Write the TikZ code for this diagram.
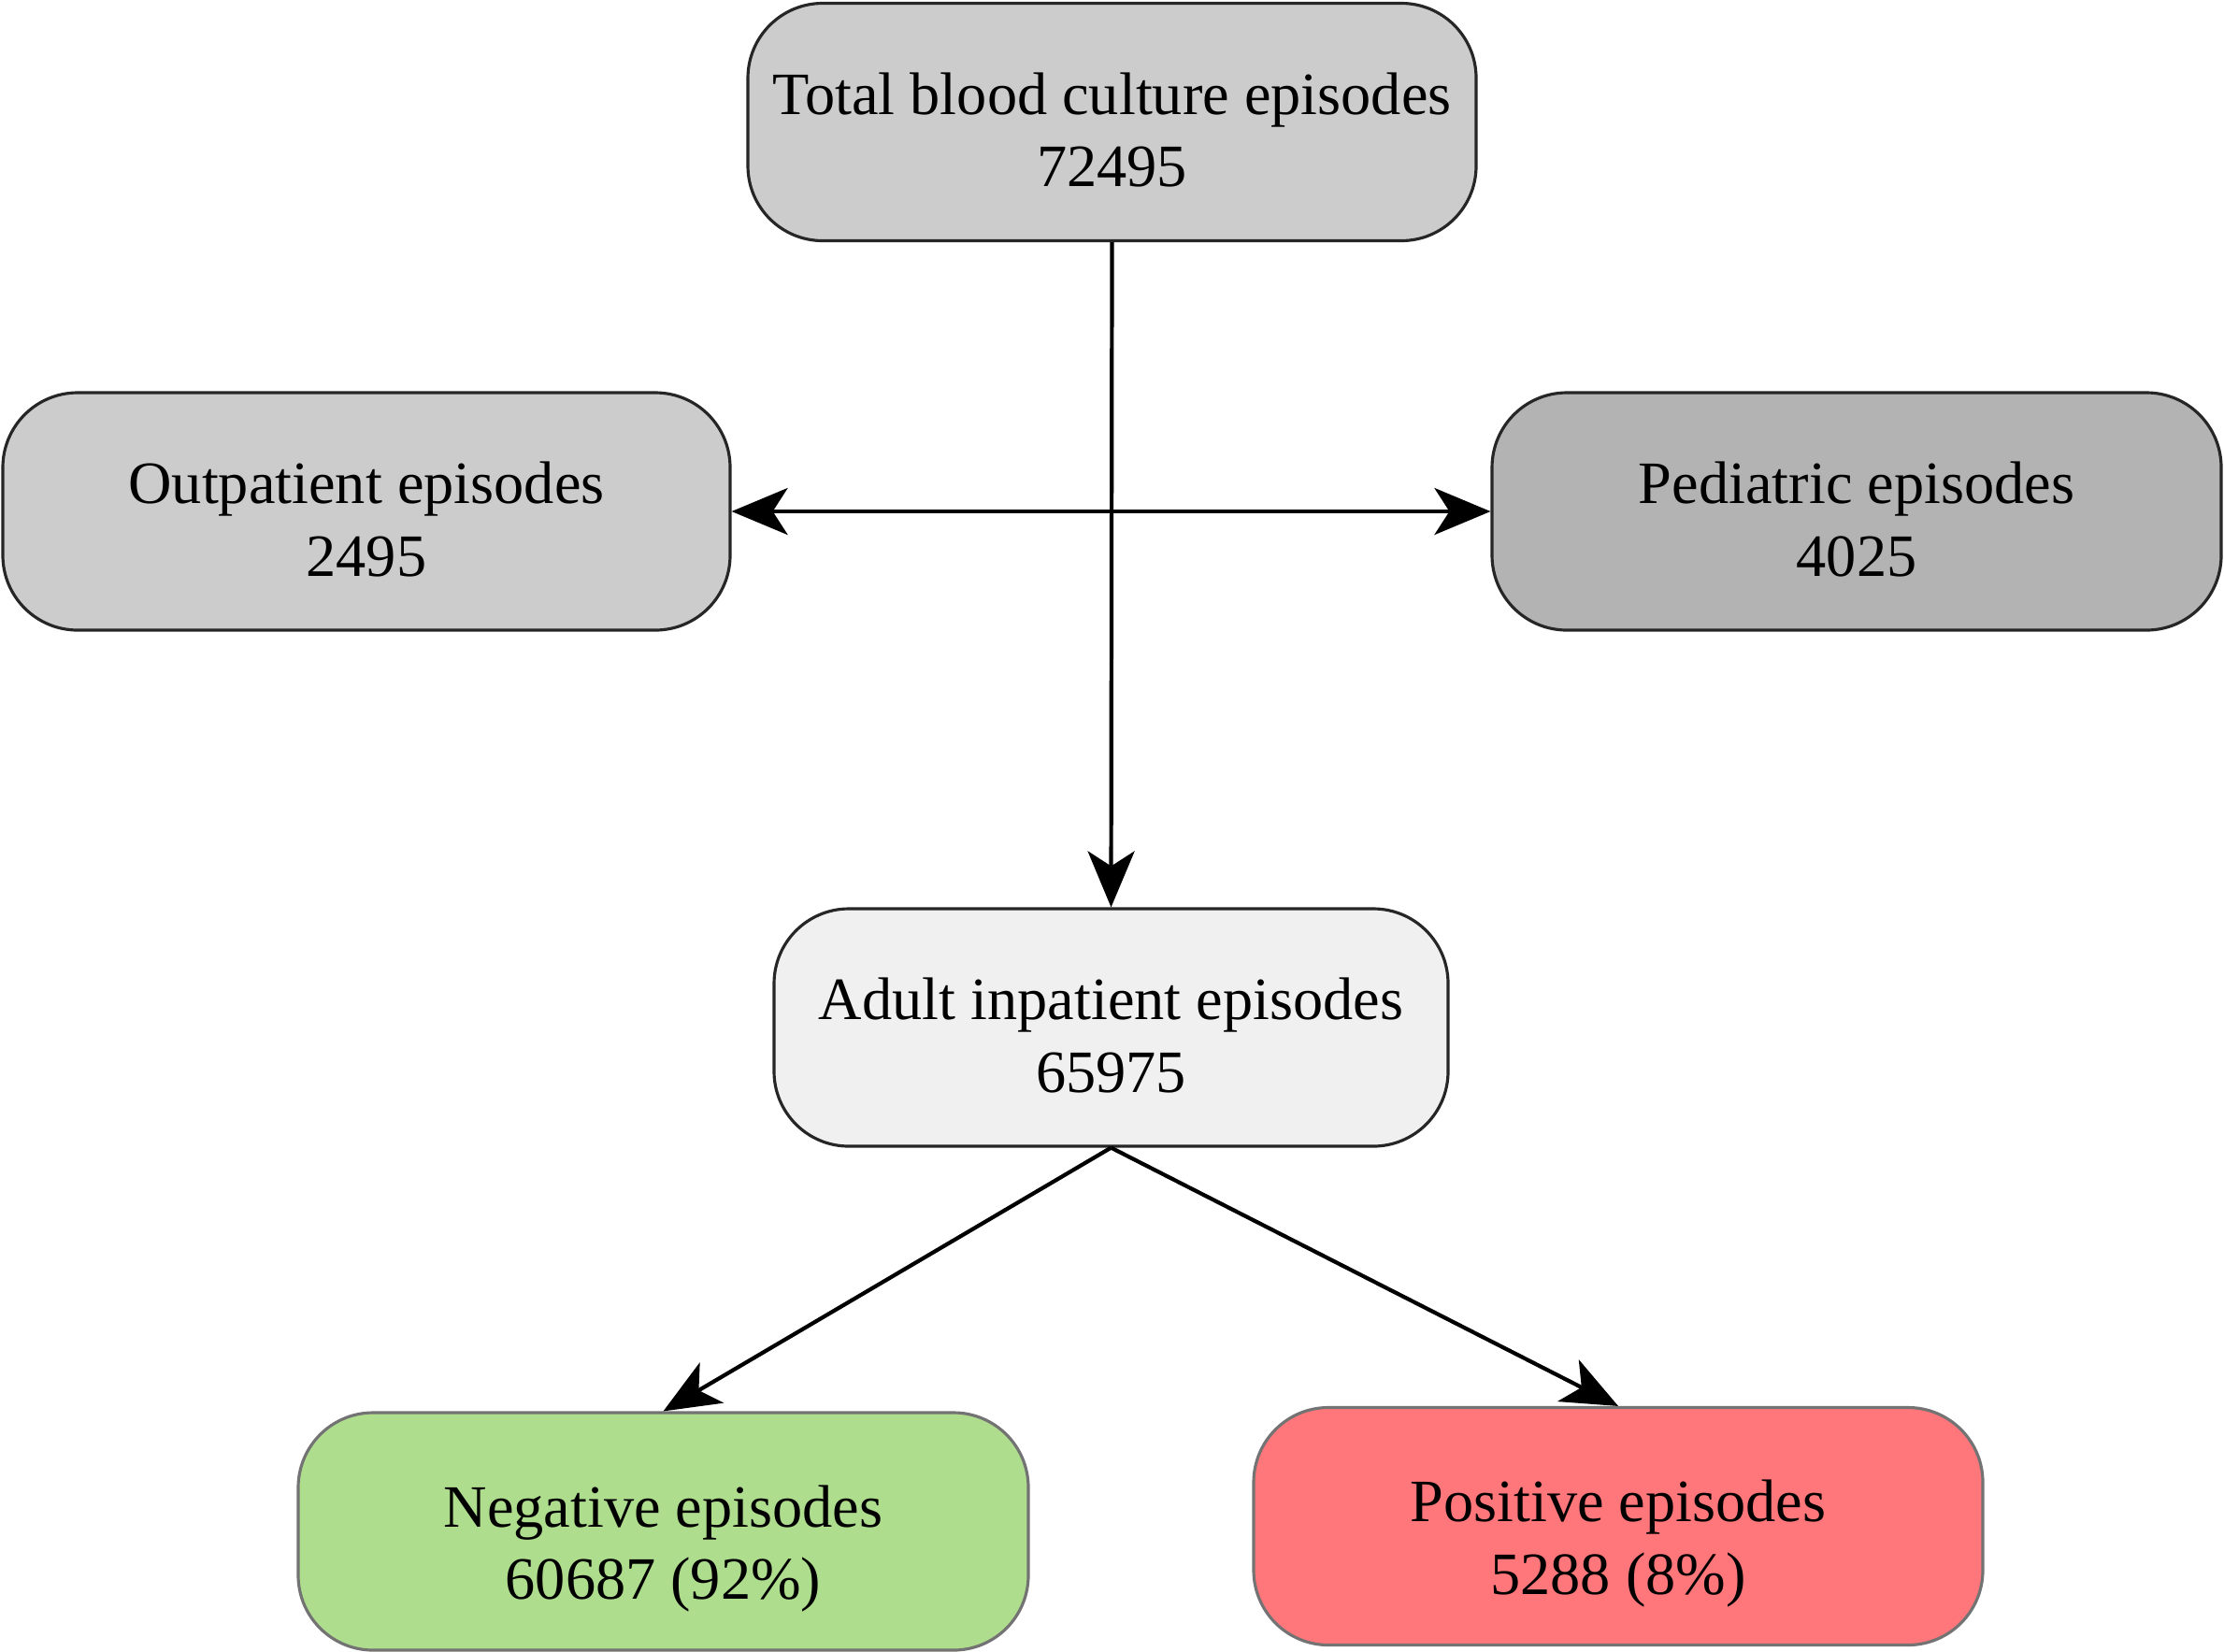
\documentclass[tikz,border=0pt]{standalone}
\usepackage{fontspec}
\setmainfont{Liberation Serif}
\usepackage{tikz}
\usetikzlibrary{arrows.meta}

\definecolor{boxgray}{HTML}{CCCCCC}
\definecolor{boxdark}{HTML}{B3B3B3}
\definecolor{boxlight}{HTML}{F0F0F0}
\definecolor{boxgreen}{HTML}{AFDD8E}
\definecolor{boxred}{HTML}{FF777B}
\newcommand{\topgap}[1]{\rule{0pt}{#1}}

\begin{document}
\begin{tikzpicture}[font=\fontsize{18.3}{22}\selectfont,
  >={Stealth[length=6mm,width=5mm,inset=1.6mm]},
  box/.style n args={3}{fill=#1,draw=#2,line width=0.9pt,rounded corners=0.8cm,
    minimum width=#3,minimum height=2.54cm,align=center,inner sep=0pt},
  arr/.style={line width=1.2pt}]
\useasboundingbox (0,0) rectangle (23.79,-17.66);
\node[box={boxgray}{black!85}{7.79cm}] (total) at (11.895,-1.305)
   {\topgap{17.6pt}Total blood culture episodes\\72495};
\node[box={boxgray}{black!85}{7.78cm}] (outp) at (3.92,-5.47)
   {\topgap{17.6pt}Outpatient episodes\\2495};
\node[box={boxdark}{black!85}{7.80cm}] (pedi) at (19.86,-5.47)
   {\topgap{17.6pt}Pediatric episodes\\4025};
\node[box={boxlight}{black!85}{7.21cm}] (adult) at (11.885,-10.99)
   {\topgap{17.6pt}Adult inpatient episodes\\65975};
\node[box={boxgreen}{black!55}{7.81cm}] (neg) at (7.095,-16.38)
   {\topgap{23.3pt}Negative episodes\\60687 (92\%)};
\node[box={boxred}{black!55}{7.80cm}] (pos) at (17.31,-16.325)
   {\topgap{23.3pt}Positive episodes\\5288 (8\%)};
\draw[arr,->] (total.south) -- (adult.north);
\draw[arr,<->] (outp.east) -- (pedi.west);
\foreach \t in {neg,pos} {
   \draw[arr,->] (adult.south) -- (\t.north);
}
\end{tikzpicture}
\end{document}
